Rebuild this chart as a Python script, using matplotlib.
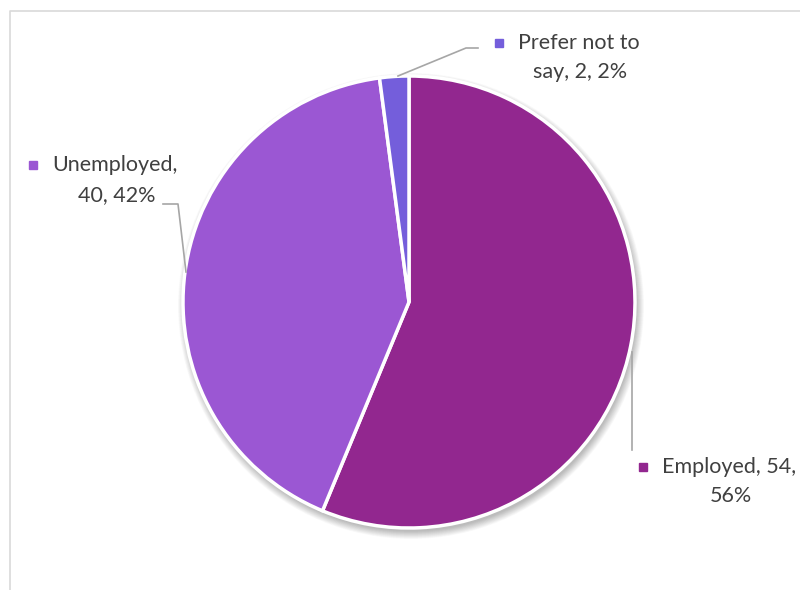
import matplotlib
matplotlib.use("Agg")
import matplotlib.pyplot as plt
import numpy as np
from matplotlib.patches import Circle, Rectangle

categories = ["Employed", "Unemployed", "Prefer not to\nsay"]
values = [54, 40, 2]
percents = ["56%", "42%", "2%"]
colors = ["#92278F", "#9B57D3", "#745EDB"]

plt.rcParams["font.family"] = ["Lato", "DejaVu Sans"]

fig = plt.figure(figsize=(8.0, 5.9), dpi=100)
ax = fig.add_axes([0, 0, 1, 1])
ax.set_xlim(0, 800)
ax.set_ylim(590, 0)
ax.set_aspect("equal")
ax.axis("off")

# chart area frame
ax.plot([9.5, 9.5, 800], [590, 10.5, 10.5], color="#D9D9D9", lw=1.2, zorder=1)

cx, cy, r = 409, 302, 226

# soft drop shadow beneath the pie
for i in range(14):
    ax.add_patch(Circle((cx + 2, cy + 4), r + 7 - i * 0.6, color="black",
                        alpha=0.018, lw=0, zorder=2))

# y axis runs downward, so angles are mirrored: start at -90 and go
# counter-clockwise in data space to run clockwise from 12 o'clock on screen
wedges, _ = ax.pie(values, colors=colors, startangle=-90, counterclock=True,
                   center=(cx, cy), radius=r, frame=True,
                   wedgeprops=dict(edgecolor="white", linewidth=2.5))
for w in wedges:
    w.set_zorder(3)
ax.set_xlim(0, 800)
ax.set_ylim(590, 0)
ax.axis("off")

txt_color = "#404040"
fs = 15.5
lc = "#A6A6A6"

# leader lines
ax.plot([398, 466, 478], [76, 48, 48], color=lc, lw=1.2, zorder=4)
ax.plot([186, 178, 163], [272, 204, 204], color=lc, lw=1.2, zorder=4)
ax.plot([632, 632], [352, 450], color=lc, lw=1.2, zorder=4)

def marker(x, y, c):
    ax.add_patch(Rectangle((x - 4, y - 4), 8, 8, color=c, zorder=5))

# Prefer not to say
marker(499, 43, colors[2])
ax.text(518, 43, "Prefer not to", ha="left", va="center", fontsize=fs,
        color=txt_color)
ax.text(580, 72, "say, %d, %s" % (values[2], percents[2]), ha="center",
        va="center", fontsize=fs, color=txt_color)

# Unemployed
marker(33, 165, colors[1])
ax.text(52, 165, "%s," % categories[1], ha="left", va="center", fontsize=fs,
        color=txt_color)
ax.text(117, 195, "%d, %s" % (values[1], percents[1]), ha="center",
        va="center", fontsize=fs, color=txt_color)

# Employed
marker(643, 467, colors[0])
ax.text(662, 467, "%s, %d," % (categories[0], values[0]), ha="left",
        va="center", fontsize=fs, color=txt_color)
ax.text(731, 496, percents[0], ha="center", va="center", fontsize=fs,
        color=txt_color)

fig.savefig("out.png", dpi=100)
